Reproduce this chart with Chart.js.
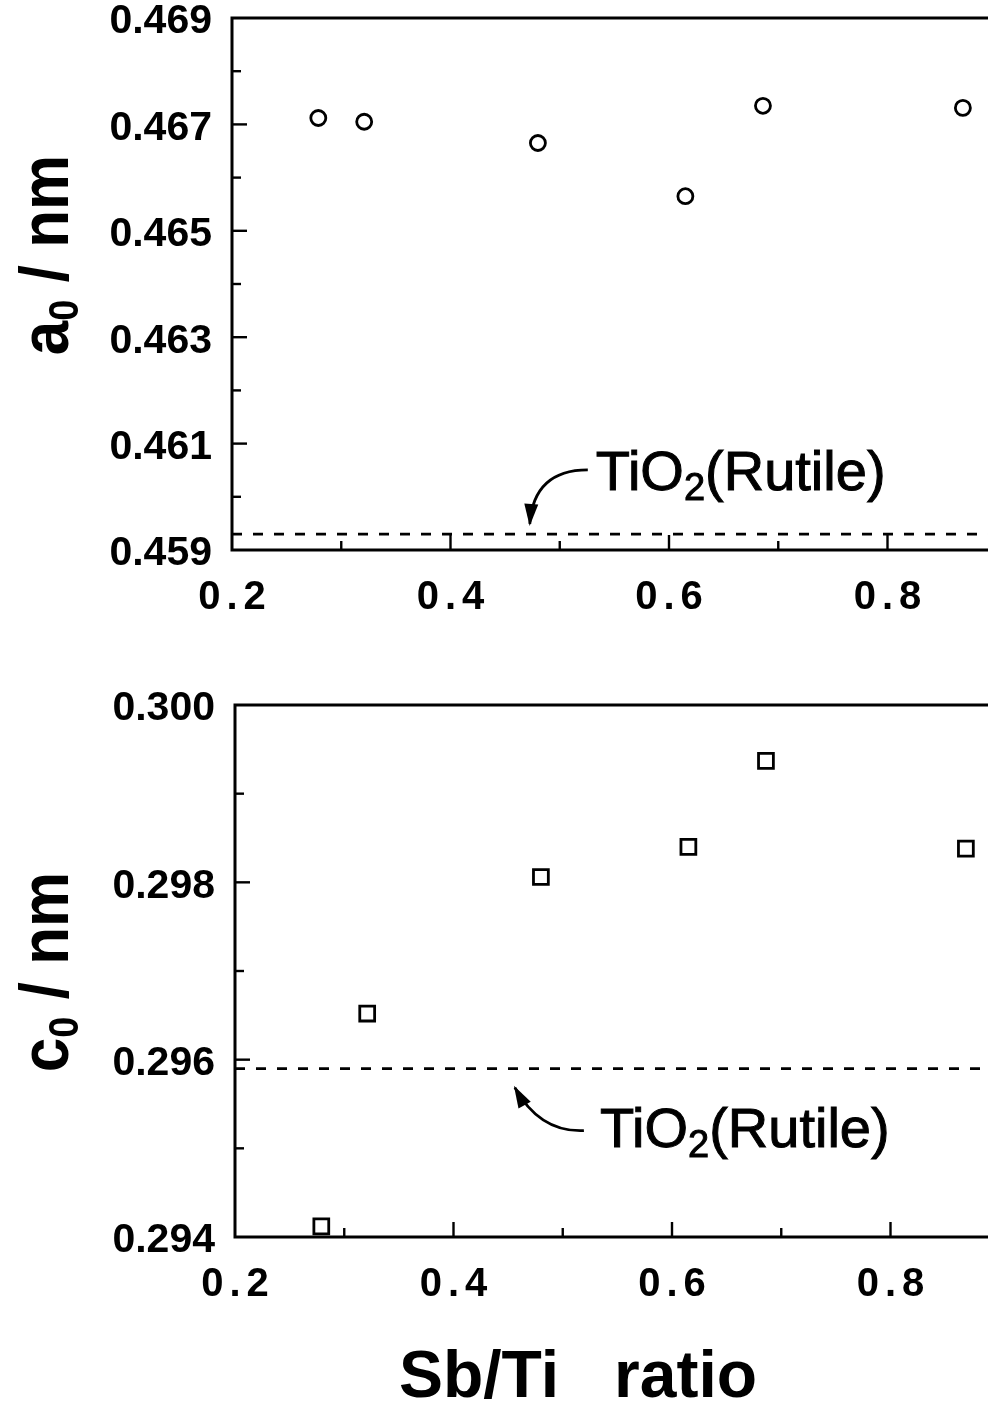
<!DOCTYPE html>
<html>
<head>
<meta charset="utf-8">
<script src="https://cdn.jsdelivr.net/npm/chart.js@4.4.1/dist/chart.umd.min.js"></script>
<style>
  html, body { margin: 0; padding: 0; background: #fff; overflow: hidden; }
  #wrap { position: relative; width: 988px; height: 1402px; overflow: hidden; background: #fff; }
  #wrap canvas { position: absolute; left: 0; }
  #chartA { top: 0; }
  #chartC { top: 687px; }
</style>
</head>
<body>
<div id="wrap">
  <canvas id="chartA" width="1120" height="640"></canvas>
  <canvas id="chartC" width="1124" height="715"></canvas>
</div>
<script>
// Sb/Ti ratio of each sample and the lattice constants measured for it
const sbTiRatio = [0.279, 0.321, 0.480, 0.615, 0.686, 0.869];
const latticeA  = [0.46712, 0.46705, 0.46665, 0.46565, 0.46735, 0.46731];
const latticeC  = [0.29412, 0.29652, 0.29806, 0.29840, 0.29937, 0.29838];

// reference values for rutile TiO2
const rutileA = 0.4593;
const rutileC = 0.2959;

// axis ranges and tick labels
const xRange = [0.2, 1.0];
const aRange = [0.459, 0.469];
const cRange = [0.294, 0.300];
const xTickLabels = ['0.2', '0.4', '0.6', '0.8', '1.0'];
const aTickLabels = ['0.459', '0.461', '0.463', '0.465', '0.467', '0.469'];
const cTickLabels = ['0.294', '0.296', '0.298', '0.300'];

const FONT = "'Liberation Sans', Arial, Helvetica, sans-serif";

function labelFor(list, v, digits) {
  const s = Number(v).toFixed(digits);
  return list.includes(s) ? s : '';
}

// draws a run of text pieces (for subscripts) centred on local x = 0, baseline at local y = 0
function drawRich(ctx, pieces, weight) {
  let total = 0;
  pieces.forEach(p => {
    ctx.font = weight + ' ' + p.size + 'px ' + FONT;
    p.w = ctx.measureText(p.t).width;
    total += p.w;
  });
  let x = -total / 2;
  pieces.forEach(p => {
    ctx.font = weight + ' ' + p.size + 'px ' + FONT;
    ctx.fillText(p.t, x, p.dy || 0);
    x += p.w;
  });
}

function drawLeftRich(ctx, pieces, weight, x0, y0, stroke) {
  let x = x0;
  pieces.forEach(p => {
    ctx.font = weight + ' ' + p.size + 'px ' + FONT;
    ctx.fillText(p.t, x, y0 + (p.dy || 0));
    if (stroke) {
      ctx.lineWidth = stroke;
      ctx.strokeText(p.t, x, y0 + (p.dy || 0));
    }
    x += ctx.measureText(p.t).width;
  });
}

function arrow(ctx, sx, sy, cx, cy, tx, ty) {
  ctx.beginPath();
  ctx.moveTo(sx, sy);
  ctx.quadraticCurveTo(cx, cy, tx, ty);
  ctx.lineWidth = 2.8;
  ctx.stroke();
  const ang = Math.atan2(ty - cy, tx - cx);
  const len = 20, half = 7;
  const bx = tx - len * Math.cos(ang), by = ty - len * Math.sin(ang);
  ctx.beginPath();
  ctx.moveTo(tx + 2 * Math.cos(ang), ty + 2 * Math.sin(ang));
  ctx.lineTo(bx + half * Math.sin(ang), by - half * Math.cos(ang));
  ctx.lineTo(bx - half * Math.sin(ang), by + half * Math.cos(ang));
  ctx.closePath();
  ctx.fill();
}

// frame, inward tick marks, spaced x labels, axis titles and the rutile note
function panelPlugin(cfg) {
  return {
    id: 'panelDecor',
    afterDraw(chart) {
      const ctx = chart.ctx;
      const { left, top, right, bottom } = chart.chartArea;
      const xs = chart.scales.x, ys = chart.scales.y;
      ctx.save();
      ctx.strokeStyle = '#000';
      ctx.fillStyle = '#000';
      ctx.lineCap = 'butt';

      ctx.lineWidth = 3;
      ctx.strokeRect(left, top, right - left, bottom - top);

      ctx.lineWidth = 2.4;
      ys.ticks.forEach(t => {
        const y = ys.getPixelForValue(t.value);
        if (y <= top + 1 || y >= bottom - 1) return;
        const len = t.label ? 15 : 9;
        ctx.beginPath(); ctx.moveTo(left, y); ctx.lineTo(left + len, y); ctx.stroke();
      });
      xs.ticks.forEach(t => {
        const x = xs.getPixelForValue(t.value);
        if (x <= left + 1 || x >= right - 1) return;
        const len = labelFor(xTickLabels, t.value, 1) ? 15 : 9;
        ctx.beginPath(); ctx.moveTo(x, bottom); ctx.lineTo(x, bottom - len); ctx.stroke();
      });

      // x tick labels, widely letter-spaced
      const ls = 6;
      ctx.font = 'bold 40px ' + FONT;
      ctx.textBaseline = 'middle';
      ctx.textAlign = 'left';
      xs.ticks.forEach(t => {
        const lbl = labelFor(xTickLabels, t.value, 1);
        if (!lbl) return;
        const x = xs.getPixelForValue(t.value);
        ctx.letterSpacing = '0px';
        const w = ctx.measureText(lbl).width + ls * (lbl.length - 1);
        ctx.letterSpacing = ls + 'px';
        ctx.fillText(lbl, x - w / 2, bottom + 48);
      });
      ctx.letterSpacing = '0px';

      // y axis title, rotated
      ctx.textBaseline = 'alphabetic';
      ctx.save();
      ctx.translate(cfg.yTitleX, cfg.yTitleY);
      ctx.rotate(-Math.PI / 2);
      ctx.scale(1.0, 1.12);
      drawRich(ctx, [
        { t: cfg.yTitleVar, size: 62 },
        { t: '0', size: 38, dy: 9 },
        { t: ' / nm', size: 62 }
      ], 'bold');
      ctx.restore();

      // rutile reference note with curved arrow
      const tx = xs.getPixelForValue(cfg.noteAt.x);
      const ty = ys.getPixelForValue(cfg.noteAt.y);
      drawLeftRich(ctx, [
        { t: 'TiO', size: 56 },
        { t: '2', size: 38, dy: 10 },
        { t: '(Rutile)', size: 56 }
      ], 'normal', tx, ty, 1);
      const a = cfg.arrow;
      arrow(ctx, tx + a[0], ty + a[1], tx + a[2], ty + a[3], tx + a[4], ty + a[5]);

      // x axis title
      if (cfg.xTitle) {
        ctx.font = 'bold 66px ' + FONT;
        ctx.textAlign = 'center';
        ctx.textBaseline = 'alphabetic';
        ctx.fillText(cfg.xTitle, cfg.xTitleX, cfg.xTitleY);
      }
      ctx.restore();
    }
  };
}

function makePanel(canvasId, values, marker, radius, refValue, yRange, yLabels, yAxisWidth, decor) {
  const canvas = document.getElementById(canvasId);
  const axisHeight = canvas.height - 550;
  return new Chart(canvas, {
    type: 'scatter',
    data: {
      datasets: [
        {
          data: sbTiRatio.map((x, i) => ({ x: x, y: values[i] })),
          pointStyle: marker,
          pointRadius: radius,
          pointHoverRadius: radius,
          pointBorderWidth: 2.8,
          pointBorderColor: '#000',
          pointBackgroundColor: 'rgba(255,255,255,0)',
          showLine: false
        },
        {
          data: [{ x: xRange[0], y: refValue }, { x: xRange[1], y: refValue }],
          showLine: true,
          borderColor: '#000',
          borderWidth: 2.8,
          borderDash: [10, 11],
          pointRadius: 0,
          pointHoverRadius: 0,
          fill: false
        }
      ]
    },
    options: {
      responsive: false,
      animation: false,
      devicePixelRatio: 1,
      events: [],
      layout: { padding: { top: 18, right: canvas.width - yAxisWidth - 874, left: 0, bottom: 0 } },
      plugins: { legend: { display: false }, tooltip: { enabled: false } },
      scales: {
        x: {
          type: 'linear',
          min: xRange[0],
          max: xRange[1],
          ticks: { display: false, stepSize: 0.1 },
          grid: { display: false, drawTicks: false },
          border: { display: false },
          afterFit: s => { s.height = axisHeight; s.paddingLeft = 0; s.paddingRight = 0; }
        },
        y: {
          type: 'linear',
          min: yRange[0],
          max: yRange[1],
          ticks: {
            stepSize: 0.001,
            autoSkip: false,
            padding: 20,
            labelOffset: 4,
            color: '#000',
            font: { family: FONT, size: 41, weight: 'bold' },
            callback: v => labelFor(yLabels, v, 3)
          },
          grid: { display: false, drawTicks: false },
          border: { display: false },
          afterFit: s => { s.width = yAxisWidth; s.paddingTop = 0; s.paddingBottom = 0; }
        }
      }
    },
    plugins: [panelPlugin(decor)]
  });
}

makePanel('chartA', latticeA, 'circle', 7.5, rutileA, aRange, aTickLabels, 232, {
  yTitleVar: 'a', yTitleX: 68, yTitleY: 255,
  noteAt: { x: 0.533, y: 0.46013 },
  arrow: [-8, -20, -62, -20, -66, 34]
});

makePanel('chartC', latticeC, 'rect', 10.5, rutileC, cRange, cTickLabels, 235, {
  yTitleVar: 'c', yTitleX: 68, yTitleY: 285,
  noteAt: { x: 0.534, y: 0.29502 },
  arrow: [-16, -16, -60, -14, -85, -59],
  xTitle: 'Sb/Ti   ratio', xTitleX: 578, xTitleY: 710
});
</script>
</body>
</html>
